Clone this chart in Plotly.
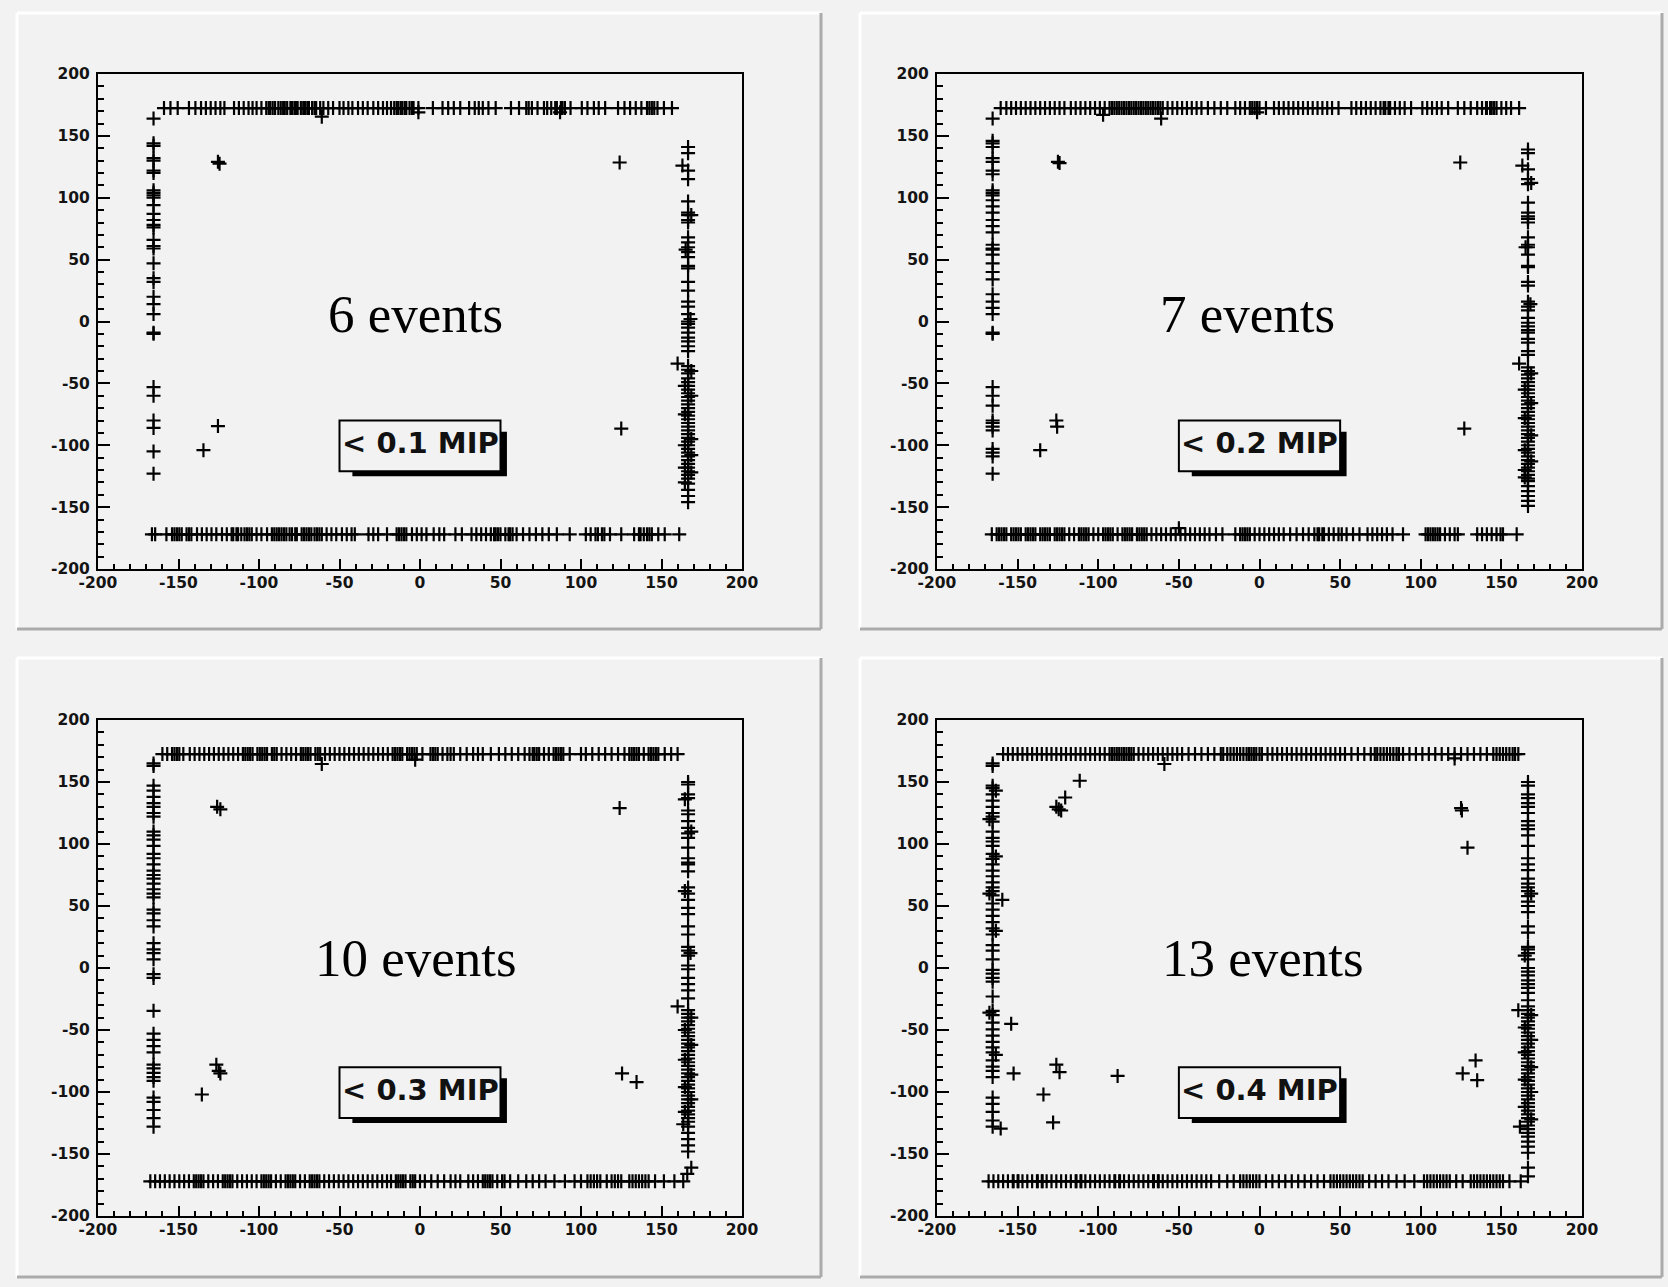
import plotly.graph_objects as go

# ---------------------------------------------------------------- data
# hit rows / columns sit on the four edges of the scintillator frame
TOP_Y = 172.5
BOT_Y = -172.0
LEFT_X = -165.5
RIGHT_X = 166.5

# panel 1 : < 0.1 MIP
p1_top_x = [-159, -155, -150.5, -143.5, -139.5, -136, -133, -130, -127, -124, -121.5, -115.5, -112.5,
            -109.5, -106.5, -104, -101.5, -98.5, -95.5, -93, -90, -88, -85, -82.5, -80.5, -78, -76, -74,
            -71.5, -69, -67, -64.5, -62, -60, -57, -54, -50, -47.5, -44.5, -42, -38.5, -35.5, -32.5, -29,
            -26, -23, -20.5, -18, -16, -13.5, -11, -8.5, -6.5, -4, -1, 8, 14, 17.5, 21, 25, 30.5, 34, 36.5,
            39, 42.5, 47, 56.5, 61.5, 66, 69.5, 73, 77, 79, 81.5, 84, 87.5, 90, 93.5, 100.5, 104, 108, 111,
            115, 123, 127, 130.5, 134, 137.5, 141, 144, 147.5, 151.5, 156.5,
            -94, -91.5, -86.5, -84, -79.5, -77, -72.5, -70, -65.5, -14.5, -12, -9.5, -5, 67.5, 85, 88.5,
            142.5, 145.5]
p1_bot_x = [-166.5, -164.5, -157.5, -154, -151, -148, -145, -142, -138.5, -135.5, -132.5, -129.5, -126.5,
            -123, -120, -117, -114, -111, -107.5, -104.5, -101.5, -98.5, -95, -92, -89, -86, -83, -79.5,
            -76.5, -73.5, -70.5, -67.5, -64, -61, -58, -55, -52, -48.5, -45.5, -42.5, -40.5, -32, -29, -26,
            -20.5, -14.5, -11.5, -8.5, -5, -2, 1, 4, 8.5, 12, 15, 22, 26, 32, 35, 38, 41, 44, 47, 50, 53,
            56, 60, 64, 68, 72, 76, 80, 85, 93, 103, 106, 109, 113, 118, 125, 133, 137, 141, 144, 148, 152,
            161,
            -152.5, -149.5, -143.5, -116, -113, -109, -106, -90.5, -87.5, -84.5, -81, -77.5, -72, -69,
            -65.5, -62.5, -13, -10, 46, 48.5, 55, 57.5, 110.5, 114.5, 136, 139, 142.5]
p1_left_y = [164, 144, 142, 132, 130, 122, 120, 106, 104, 102, 100, 94, 87, 82, 78, 76, 66, 61, 59, 47, 35,
             32, 20, 14, 6, -9, -10, -53, -60, -80, -86, -105, -123]
p1_right_y = [141, 136, 122, 115, 97, 88, 86, 82, 80, 68, 64, 60, 56, 52, 45, 43, 32, 25, 16, 12, 6, 0, -2,
              -5, -9, -13, -16, -20, -24, -36, -39, -42, -46, -49, -52, -55, -58, -61, -64, -67, -70, -73,
              -76, -79, -82, -85, -88, -91, -94, -97, -100, -103, -106, -109, -112, -115, -118, -121, -124,
              -127, -131, -136, -141, -146]
p1_extra_x = [-125.5, -124.5, -125.5, -134.5, 124, 125, -61, 160, 163, -1, 87,
              168.5, 164.5, 168.5, 164.5, 168.5, 164.5, 168.5, 164.5, 168.5, 168, 165, 168.5, 164.5]
p1_extra_y = [129, 127.5, -84.5, -104, 128.5, -86.5, 165.5, -34, 126, 169, 169,
              -40, -52, -60, -75, -95, -100, -108, -118, -122, 2, 58, 86, -130]

# panel 2 : < 0.2 MIP
p2_top_x = [-160.5, -157, -154, -151, -148, -145, -142, -139, -136, -133, -130, -127, -124, -121, -117,
            -114, -111, -108, -105, -102, -99, -96, -93, -90, -87, -84, -81, -78, -75, -72, -69, -66, -63,
            -60, -57, -54, -51, -48, -45, -42, -39, -36, -32, -28, -24, -20, -15, -12, -9, -6, -3, 0, 4, 9,
            12, 15, 18, 21, 24, 27, 30, 33, 36, 39, 42, 45, 49, 57, 60, 63, 66, 69, 72, 75, 78, 81, 84, 87,
            90, 94, 101, 104, 107, 110, 113, 117, 123, 127, 131, 135, 138, 141, 144, 147, 150, 153, 156, 161,
            -91.5, -88.5, -85.5, -82.5, -79.5, -76.5, -73.5, -70.5, -67.5, -64.5, -61.5, -4.5, -1.5,
            77, 80, 140.5, 143, 145.5]
p2_bot_x = [-166, -163, -160, -157, -154, -151, -148, -145, -142, -139, -136, -133, -130, -127, -124,
            -121, -118, -115, -112, -109, -106, -103, -100, -97, -94, -91, -88, -85, -82, -79, -76, -73,
            -70, -67, -64, -61, -58, -55, -52, -49, -46, -43, -40, -37, -34, -31, -27, -23, -15, -12, -9,
            -6, -3, 0, 3, 6, 9, 12, 15, 19, 23, 27, 30.5, 34, 37, 40, 43, 46, 49, 51, 54, 58, 62, 67, 70,
            73, 76, 79, 82.5, 89, 103, 106, 109, 112, 115, 118, 121, 123, 135, 138, 141, 144, 147, 151,
            159.5,
            -161.5, -158.5, -152.5, -149.5, -143.5, -140.5, -134.5, -131.5, -125.5, -122.5, -110.5, -107.5,
            -95.5, -92.5, -83.5, -80.5, -74.5, -71.5, -10.5, -7.5, 36, 39, 104.5, 107.5, 110.5, 149.5]
p2_left_y = [164, 146, 144, 141, 132, 129, 122, 119, 106, 104, 102, 98, 93, 88, 82, 77, 72, 62, 59, 58,
             54, 47, 40, 34, 22, 16, 11, 6, -9, -10, -53, -60, -68, -80, -82, -85, -88, -103, -106, -109,
             -123]
p2_right_y = [139, 136, 123, 115, 111, 96, 88, 85, 83, 80, 68, 62, 60, 54, 45, 44, 32, 29, 16, 12, 9, 3,
              -1, -4, -7, -9, -14, -17, -24, -27, -37, -40, -43, -46, -49, -52, -55, -58, -61, -64, -67,
              -70, -73, -76, -79, -82, -85, -88, -91, -94, -97, -100, -103, -106, -109, -112, -115, -118,
              -121, -124, -127, -129, -133, -137, -141, -145, -149]
p2_extra_x = [-125, -124, -126, -125.5, -136, 124.5, 127, -61, 161, 163, -50, -97, -1.5,
              168.5, 164.5, 168.5, 164.5, 168.5, 164.5, 168.5, 164.5, 168, 165, 168.5, 164.5]
p2_extra_y = [129, 128, -80, -85, -104, 128.5, -86.5, 164, -34, 126, -167, 167, 169,
              -42, -55, -66, -78, -92, -104, -113, -120, 14, 60, 112, -126]

# panel 3 : < 0.3 MIP
p3_top_x = [-160, -157, -154, -151, -147, -143, -140, -137, -134, -131, -128, -125, -122, -119, -116,
            -113, -110, -107, -104, -101, -98, -95, -92, -89, -86, -83, -80, -77, -74, -71, -68, -65, -62,
            -59, -56, -53, -50, -47, -44, -41, -38, -35, -32, -29, -26, -23, -20, -17, -14, -11, -8, -5,
            -2, 1.5, 8, 11, 14, 17, 21, 25, 29, 33, 36, 39, 44, 49, 53, 57, 61, 65, 68, 71, 74, 77, 80,
            83, 86, 89, 93, 100, 103, 107, 111, 115, 119, 123, 127, 130, 133, 136, 139, 142, 145, 148, 152,
            156, 160,
            -152.5, -149.5, -108.5, -105.5, -99.5, -96.5, -90.5, -72.5, -69.5, -63.5, -15.5, -12.5, -6.5,
            -3.5, 6.5, 9.5, 19, 70, 72.5, 84.5, 87.5, 131.5, 134.5, 143.5, 146.5]
p3_bot_x = [-167.5, -164.5, -161.5, -158.5, -155.5, -152.5, -149.5, -146.5, -143.5, -140.5, -137.5, -134.5,
            -131.5, -128.5, -125.5, -122.5, -119.5, -116.5, -113.5, -110.5, -107.5, -104.5, -101.5, -98.5,
            -95.5, -92.5, -89.5, -86.5, -83.5, -80.5, -77.5, -74.5, -71.5, -68.5, -65.5, -62.5, -59.5,
            -56.5, -53.5, -50.5, -47.5, -44.5, -41.5, -38.5, -35.5, -32.5, -29.5, -26.5, -23.5, -20.5, -18,
            -15, -12, -9, -6, -3, 0, 3, 7, 11, 15, 19, 22, 25, 30, 33, 36, 39, 42, 45, 48, 51, 56, 61, 66,
            70, 74, 78, 83.5, 90, 96, 100, 104, 108, 112, 116, 121, 125, 130, 134, 138, 142, 146, 151.5,
            158, 163.5,
            -139, -136, -121, -118, -97, -94, -82, -79, -67, -64, -13.5, -10.5, -4.5, 40.5, 43.5, 52.5,
            106, 110, 119, 123, 132, 136, 140]
p3_left_y = [165, 163, 147, 143, 138, 133, 130, 125, 122, 110, 107, 103.5, 98.5, 92, 88.5, 83.5, 78.5, 75,
             72, 68, 63.5, 60, 57, 47, 44, 38.5, 33.5, 20, 15, 12, 7, -5, -8, -34.5, -53, -58, -63, -68,
             -78, -81, -84.5, -88, -91, -104.5, -108, -114.5, -121, -128]
p3_right_y = [150, 148, 140, 137, 127, 124, 118.5, 113, 108.5, 105, 97, 88.5, 85, 83.5, 78, 65, 60, 55,
              48.5, 43.5, 33.5, 27, 17, 14, 10, 2, -1, -8, -13, -18, -24.5, -34, -37, -40, -43, -46, -49,
              -52, -55, -58, -61, -64, -67, -70, -73, -76, -79, -82, -85, -88, -91, -94, -97, -100, -103,
              -106, -109, -112, -115, -118, -121, -124, -128, -133, -138, -143, -148]
p3_extra_x = [-126, -124, -126.5, -125, -124, -135.5, 124, 125.5, 134.5, -61, 160, 168.5, 166, -3,
              168.5, 164.5, 168.5, 164.5, 168.5, 164.5, 168.5, 164.5, 168, 164.5, 168.5, 164.5, 163.5]
p3_extra_y = [130, 128, -78, -83, -85, -102, 129, -85, -92, 164.5, -31, -161, -166, 168,
              -40, -50, -62, -74, -86, -96, -106, -116, 12, 62, 110, 136, -126]

# panel 4 : < 0.4 MIP
p4_top_x = [-159, -156, -153, -150, -147, -144, -141, -138, -135, -132, -129, -126, -123, -120, -117,
            -114, -111, -108, -105, -102, -99, -96, -93, -90, -87, -84, -81, -78, -75, -72, -69, -66, -63,
            -60, -57, -54, -51, -48, -44, -40, -36, -32, -28, -24, -20, -16, -12, -8, -5, -2, 1.5, 5, 8,
            11, 14, 17, 20, 23, 26, 29, 32, 35, 38, 41, 44, 47, 50, 53, 57, 61, 65, 69, 73, 77, 81, 85,
            89, 93, 97, 101, 105, 109, 113, 117, 121, 125, 129, 133, 137, 141, 145, 149, 153, 157, 160.5,
            -91.5, -88.5, -85.5, -82.5, -79.5, -22.5, -18, -14, -10, -6.5, -3.5, 0, 71.5, 75, 79, 83,
            86.5, 147, 151, 155, 158.5]
p4_bot_x = [-168, -165, -162, -159, -156, -153, -150, -147, -144, -141, -138, -135, -132, -129, -126,
            -123, -120, -117, -114, -111, -108, -105, -102, -99, -96, -93, -90, -87, -84, -81, -78, -75,
            -72, -69, -66, -63, -60, -57, -54, -51, -48, -45, -42, -39, -36, -33, -30, -25, -20, -16, -12,
            -8, -4, 0, 4, 8, 12, 16, 20, 24, 28, 32, 36, 40, 44, 48, 52, 56, 60, 64, 68, 72, 76, 80, 85,
            90, 96, 102, 106, 110, 114, 118, 122, 126, 131, 135, 139, 143, 147, 151, 155, 162,
            -152.5, -149.5, -137.5, -134.5, -113.5, -110.5, -89.5, -86.5, -65.5, -62.5, -10, -6, -2, 46,
            50, 54, 58, 62, 104, 108, 112, 116, 133, 137, 141, 145, 149]
p4_left_y = [165, 163, 147, 145, 140, 135, 130, 125, 122, 118, 110, 105, 102, 98.5, 92, 88, 83.5, 78.5,
             74, 69, 65, 62, 58.5, 52, 47, 42, 37, 32, 27, 18.5, 14, 7, -1.5, -4.5, -8, -11, -23, -34.5,
             -38, -44, -49.5, -54.5, -59.5, -64, -68, -74.5, -79.5, -83, -88, -104.5, -109.5, -116, -123,
             -128]
p4_right_y = [150, 147, 140, 137, 133, 130, 125, 118.5, 115, 112, 107, 98.5, 88.5, 83.5, 79, 72, 68, 65,
              62, 58, 53.5, 50, 45, 33.5, 28.5, 17, 15, 12, 7, 0, -3, -6, -10, -13, -16, -20, -26, -31,
              -34, -37, -40, -43, -46, -49, -52, -55, -58, -61, -64, -67, -70, -73, -76, -79, -82, -85,
              -88, -91, -94, -97, -100, -103, -106, -109, -112, -115, -118, -121, -124, -127, -130, -133,
              -136, -140, -144, -149, -161, -168]
p4_extra_x = [-159.5, -160.5, -154, -152.5, -126, -124.5, -123, -120.5, -111.5, -126, -124, -134, -128,
              -88, -59, 125, 125.5, 129, 126, 134, 135, 160.5, 161.5, 121,
              -163.5, -167.5, -163.5, -167.5, -163.5, -167.5, -163.5,
              168.5, 164.5, 168.5, 164.5, 168.5, 164.5, 168.5, 164.5, 168.5, 164.5, 168.5]
p4_extra_y = [55, -129.5, -45, -85, 130, 128, 127, 137.5, 151, -78, -84, -102, -124.5, -87, 164.5, 129,
              127, 97, -85, -74.5, -90.5, -34, -128, 169,
              143, 120, 90, 60, 30, -36, -70,
              -38, -48, -58, -68, -80, -90, -100, -112, -122, 10, 60]

event_labels = ["6 events", "7 events", "10 events", "13 events"]
event_label_x = [-2.6, -7.6, -2.3, 2.2]
event_label_y = [6.3, 6.3, 8.2, 8.2]
cut_labels = ["< 0.1 MIP", "< 0.2 MIP", "< 0.3 MIP", "< 0.4 MIP"]

tick_vals = [-200, -150, -100, -50, 0, 50, 100, 150, 200]
tick_text = ["-200", "-150", "-100", "-50", "0", "50", "100", "150", "200"]

panels = [
    (p1_top_x, p1_bot_x, p1_left_y, p1_right_y, p1_extra_x, p1_extra_y),
    (p2_top_x, p2_bot_x, p2_left_y, p2_right_y, p2_extra_x, p2_extra_y),
    (p3_top_x, p3_bot_x, p3_left_y, p3_right_y, p3_extra_x, p3_extra_y),
    (p4_top_x, p4_bot_x, p4_left_y, p4_right_y, p4_extra_x, p4_extra_y),
]

# ---------------------------------------------------------------- layout (pixels)
W, H = 1668, 1287
BG = "#f2f2f2"
pad_boxes = [(17, 13, 821, 629), (860, 13, 1662, 629), (17, 658, 821, 1277), (860, 658, 1662, 1277)]
frame_boxes = [(98, 74, 742, 569), (937, 74, 1582, 569), (98, 720, 742, 1216), (937, 720, 1582, 1216)]


def px(x):
    return x / W


def py(y):
    return 1 - y / H


fig = go.Figure()
shapes = []
annotations = []

for i, (box, frame, data) in enumerate(zip(pad_boxes, frame_boxes, panels)):
    n = i + 1
    xa = "x" if n == 1 else f"x{n}"
    ya = "y" if n == 1 else f"y{n}"
    top_x, bot_x, left_y, right_y, ex_x, ex_y = data

    xs = list(top_x) + list(bot_x) + [LEFT_X] * len(left_y) + [RIGHT_X] * len(right_y) + list(ex_x)
    ys = [TOP_Y] * len(top_x) + [BOT_Y] * len(bot_x) + list(left_y) + list(right_y) + list(ex_y)
    fig.add_trace(go.Scatter(
        x=xs, y=ys, mode="markers", xaxis=xa, yaxis=ya, showlegend=False, hoverinfo="skip",
        marker=dict(symbol="cross-thin", size=10, line=dict(width=2.2, color="black")),
    ))

    # bevelled pad border
    x0, y0, x1, y1 = box
    shapes += [
        dict(type="line", xref="paper", yref="paper", x0=px(x0), x1=px(x1), y0=py(y0), y1=py(y0),
             line=dict(color="white", width=3), layer="below"),
        dict(type="line", xref="paper", yref="paper", x0=px(x0), x1=px(x0), y0=py(y0), y1=py(y1),
             line=dict(color="white", width=3), layer="below"),
        dict(type="line", xref="paper", yref="paper", x0=px(x1), x1=px(x1), y0=py(y0), y1=py(y1),
             line=dict(color="#ababab", width=3), layer="below"),
        dict(type="line", xref="paper", yref="paper", x0=px(x0), x1=px(x1), y0=py(y1), y1=py(y1),
             line=dict(color="#ababab", width=3), layer="below"),
    ]

    fx0, fy0, fx1, fy1 = frame
    axis_common = dict(
        range=[-200, 200], tickmode="array", tickvals=tick_vals, ticktext=tick_text,
        ticks="inside", tickwidth=2, tickcolor="black", automargin=False,
        showline=True, linewidth=2, linecolor="black", mirror=True,
        showgrid=False, zeroline=False,
        tickfont=dict(family="DejaVu Sans", size=15.5, color="#141414", weight="bold"),
    )
    fig.update_layout(**{
        ("xaxis" if n == 1 else f"xaxis{n}"): dict(
            axis_common, domain=[px(fx0), px(fx1)], anchor=ya, ticklen=10, ticklabelstandoff=-2,
            minor=dict(tickmode="linear", tick0=-200, dtick=10, ticks="inside", ticklen=5,
                       tickwidth=1.5, tickcolor="black"),
        ),
        ("yaxis" if n == 1 else f"yaxis{n}"): dict(
            axis_common, domain=[py(fy1), py(fy0)], anchor=xa, ticklen=12, ticklabelstandoff=3,
            minor=dict(tickmode="linear", tick0=-200, dtick=10, ticks="inside", ticklen=6,
                       tickwidth=1.5, tickcolor="black"),
        ),
    })

    # cut label box with drop shadow
    shapes += [
        dict(type="rect", xref=xa, yref=ya, x0=-42, x1=54, y0=-125, y1=-89,
             fillcolor="black", line=dict(width=0), layer="above"),
        dict(type="rect", xref=xa, yref=ya, x0=-50, x1=50, y0=-121, y1=-80,
             fillcolor=BG, line=dict(color="black", width=2), layer="above"),
    ]
    annotations += [
        dict(xref=xa, yref=ya, x=0, y=-98, text=cut_labels[i], showarrow=False,
             font=dict(family="DejaVu Sans", size=29, color="#111111", weight="bold"),
             xanchor="center", yanchor="middle"),
        dict(xref=xa, yref=ya, x=event_label_x[i], y=event_label_y[i], text=event_labels[i],
             showarrow=False, xanchor="center", yanchor="middle",
             font=dict(family="Liberation Serif, Times New Roman, serif", size=53, color="black")),
    ]

fig.update_layout(
    width=W, height=H, autosize=False,
    margin=dict(l=0, r=0, t=0, b=0, pad=0, autoexpand=False),
    paper_bgcolor=BG, plot_bgcolor=BG,
    shapes=shapes, annotations=annotations,
)

fig.write_html("out.html")
